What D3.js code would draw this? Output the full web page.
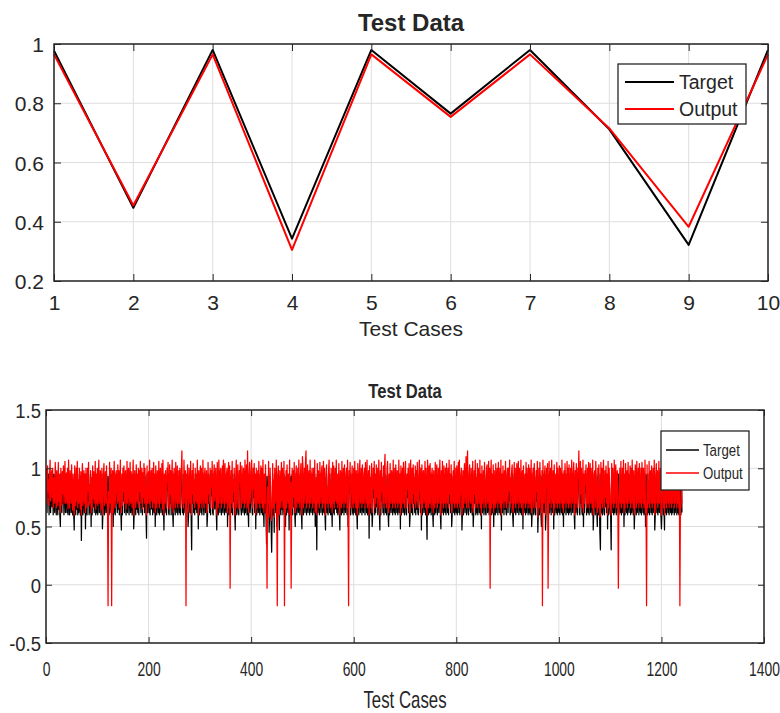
<!DOCTYPE html>
<html><head><meta charset="utf-8">
<script src="https://cdn.jsdelivr.net/npm/d3@7"></script>
<style>
body{margin:0;background:#fff}
svg text{font-family:"Liberation Sans",Arial,Helvetica,sans-serif;fill:#262626}
</style>
</head><body>
<svg id="chart" width="780" height="713"></svg>
<script>
// ---------- DATA ----------
const seriesNames = ["Target", "Output"];

// Panel 1
const cases1 = [1,2,3,4,5,6,7,8,9,10];
const target1 = [0.977,0.447,0.98,0.343,0.98,0.765,0.98,0.712,0.322,0.98];
const output1 = [0.965,0.455,0.965,0.305,0.965,0.754,0.965,0.715,0.383,0.965];
const xTicks1 = [1,2,3,4,5,6,7,8,9,10];
const yTicks1 = [0.2,0.4,0.6,0.8,1];

// Panel 2 (test cases 1..1240)
const target2 = [
.95,.62,.93,.75,.95,.6,.87,.95,.62,.8,.95,.67,.93,.6,.95,.72,.62,.95,.85,.6,
.93,.77,.6,.95,.65,.9,.6,.5,.95,.82,.62,.95,.7,.93,.6,.87,.95,.62,.75,.95,
.62,.9,.6,.95,.72,.6,.93,.8,.62,.95,.67,.6,.9,.62,.47,.95,.75,.6,.93,.65,
.95,.6,.85,.62,.95,.7,.6,.93,.38,.82,.95,.6,.77,.95,.62,.9,.48,.95,.65,.6,
.93,.72,.95,.6,.8,.62,.95,.5,.87,.6,.93,.67,.95,.62,.75,.95,.6,.9,.62,.95,
.6,.85,.95,.62,.7,.93,.6,.8,.95,.48,.62,.9,.95,.6,.77,.93,.62,.95,.67,.6,
.93,.75,.6,.95,.62,.87,.95,.6,.72,.93,.5,.82,.95,.62,.6,.9,.95,.7,.62,.95,
.65,.93,.6,.8,.95,.62,.47,.9,.6,.95,.72,.93,.62,.85,.95,.6,.67,.95,.62,.9,
.95,.6,.77,.93,.62,.95,.7,.6,.87,.95,.48,.62,.93,.8,.6,.95,.65,.9,.62,.95,
.6,.93,.72,.95,.62,.82,.95,.6,.9,.67,.95,.62,.93,.75,.6,.4,.95,.62,.87,.93,
.62,.95,.6,.8,.93,.65,.95,.6,.72,.95,.62,.9,.5,.95,.7,.6,.93,.85,.62,.95,
.6,.87,.95,.62,.77,.93,.6,.95,.67,.47,.9,.62,.95,.72,.6,.93,.82,.95,.62,.6,
.95,.7,.93,.6,.85,.95,.62,.5,.9,.95,.65,.6,.93,.8,.62,.95,.6,.75,.93,.62,
.95,.6,.87,.93,.95,.62,.72,.6,.95,.82,.62,.93,.6,.9,.67,.95,.5,.6,.93,.77,
.62,.95,.6,.3,.93,.7,.95,.62,.85,.6,.95,.65,.9,.62,.95,.75,.48,.93,.6,.8,
.95,.62,.93,.6,.72,.95,.67,.6,.9,.95,.62,.8,.93,.5,.6,.95,.7,.87,.62,.95,
.6,.93,.77,.95,.62,.6,.9,.95,.65,.82,.95,.62,.47,.93,.72,.6,.95,.85,.62,.93,
.95,.6,.7,.93,.62,.95,.87,.6,.95,.67,.62,.9,.95,.5,.8,.93,.6,.95,.62,.75,
.93,.62,.95,.6,.85,.72,.95,.62,.47,.9,.93,.6,.77,.95,.62,.6,.93,.82,.95,.65,
.6,.95,.7,.62,.93,.87,.6,.95,.62,.8,.95,.6,.93,.67,.5,.9,.95,.62,.72,.93,
.95,.62,.6,.93,.75,.95,.62,.9,.48,.95,.6,.82,.93,.62,.95,.7,.6,.87,.95,.62,
.93,.6,.95,.65,.5,.9,.62,.95,.6,.35,.93,.77,.62,.95,.45,.6,.93,.7,.5,.28,
.62,.95,.6,.85,.45,.93,.62,.72,.95,.5,.6,.9,.95,.62,.47,.93,.8,.6,.95,.65,
.93,.6,.75,.95,.62,.87,.5,.93,.6,.95,.7,.62,.9,.47,.95,.6,.82,.93,.62,.95,
.6,.93,.67,.95,.62,.5,.9,.95,.6,.77,.93,.62,.95,.72,.6,.87,.95,.62,.48,.93,
.95,.6,.8,.93,.62,.95,.9,.6,.7,.95,.62,.85,.93,.6,.95,.65,.62,.9,.95,.6,
.75,.93,.62,.95,.5,.6,.87,.3,.95,.62,.93,.72,.6,.95,.82,.62,.9,.95,.6,.67,
.95,.62,.93,.6,.47,.9,.95,.62,.77,.6,.93,.95,.62,.85,.6,.95,.7,.5,.93,.62,
.95,.6,.82,.93,.65,.95,.62,.9,.6,.72,.95,.62,.47,.93,.87,.6,.95,.62,.75,.93,
.6,.95,.7,.62,.9,.93,.6,.95,.5,.62,.93,.8,.95,.6,.67,.87,.95,.62,.6,.93,
.62,.95,.77,.6,.93,.62,.48,.95,.85,.6,.9,.95,.62,.72,.93,.6,.95,.65,.62,.9,
.95,.6,.93,.82,.62,.95,.6,.7,.93,.4,.95,.62,.87,.6,.95,.5,.62,.93,.75,.95,
.6,.9,.62,.95,.67,.93,.6,.8,.95,.62,.47,.93,.6,.95,.72,.87,.62,.95,.6,.93,
.95,.62,.77,.6,.93,.95,.62,.5,.9,.6,.95,.7,.62,.93,.85,.6,.95,.65,.62,.93,
.6,.95,.82,.62,.93,.6,.72,.95,.62,.9,.48,.95,.6,.87,.93,.62,.95,.67,.6,.93,
.95,.62,.6,.9,.75,.95,.62,.93,.5,.6,.95,.8,.62,.93,.6,.95,.7,.87,.62,.95,
.6,.93,.65,.95,.62,.6,.9,.95,.77,.62,.93,.47,.95,.6,.85,.93,.62,.72,.95,.6,
.93,.62,.39,.95,.82,.6,.93,.62,.95,.67,.6,.9,.95,.62,.5,.93,.75,.6,.95,.62,
.9,.95,.6,.72,.93,.62,.87,.95,.6,.48,.93,.62,.95,.8,.6,.95,.65,.62,.93,.6,
.95,.77,.62,.93,.6,.95,.7,.9,.62,.95,.5,.6,.85,.93,.62,.95,.6,.67,.93,.62,
.95,.6,.82,.93,.62,.95,.6,.72,.9,.95,.47,.62,.93,.6,.87,.95,.62,.75,.95,.6,
.93,.95,.62,.6,.9,.95,.65,.62,.93,.8,.6,.95,.5,.62,.93,.7,.95,.6,.87,.62,
.95,.6,.93,.77,.62,.95,.6,.9,.48,.95,.62,.72,.93,.6,.95,.85,.62,.6,.93,.95,
.62,.67,.95,.6,.93,.62,.82,.95,.6,.9,.62,.95,.5,.93,.7,.6,.95,.62,.87,.93,
.6,.95,.75,.62,.93,.6,.95,.47,.9,.62,.95,.8,.6,.93,.65,.95,.62,.6,.9,.95,
.62,.93,.72,.95,.6,.87,.62,.93,.95,.6,.5,.82,.95,.62,.93,.6,.77,.95,.62,.9,
.95,.6,.93,.67,.62,.95,.6,.85,.93,.48,.95,.62,.7,.9,.6,.95,.62,.93,.8,.6,
.95,.62,.93,.6,.75,.95,.5,.62,.9,.93,.6,.95,.87,.62,.6,.93,.72,.95,.45,.62,
.93,.6,.95,.82,.62,.5,.93,.6,.95,.67,.62,.9,.95,.47,.6,.93,.77,.95,.62,.6,
.95,.62,.87,.93,.6,.95,.7,.62,.93,.48,.95,.6,.8,.9,.62,.95,.6,.93,.65,.62,
.95,.6,.93,.75,.62,.95,.6,.9,.5,.93,.62,.95,.85,.6,.72,.95,.62,.93,.6,.95,
.62,.67,.93,.6,.95,.82,.62,.9,.95,.6,.48,.93,.62,.95,.77,.6,.93,.87,.95,.62,
.6,.95,.7,.93,.62,.6,.95,.5,.9,.62,.93,.8,.95,.6,.65,.93,.62,.95,.6,.87,
.95,.62,.93,.72,.6,.95,.47,.62,.9,.93,.6,.95,.82,.62,.5,.93,.6,.95,.75,.45,
.3,.95,.62,.93,.6,.87,.95,.62,.6,.93,.67,.95,.62,.9,.48,.95,.6,.93,.8,.62,
.6,.3,.95,.62,.93,.72,.6,.95,.62,.9,.95,.6,.85,.93,.62,.95,.6,.77,.93,.62,
.95,.6,.67,.93,.62,.95,.5,.9,.6,.95,.82,.62,.93,.6,.95,.7,.62,.87,.95,.6,
.93,.62,.95,.75,.6,.93,.48,.62,.95,.9,.6,.95,.62,.8,.93,.6,.95,.65,.62,.93,
.6,.95,.87,.62,.93,.6,.72,.95,.5,.62,.93,.95,.6,.82,.62,.95,.6,.9,.93,.62,
.95,.6,.77,.93,.62,.95,.47,.6,.9,.95,.62,.93,.6,.7,.95,.62,.85,.93,.6,.48,
.62,.93,.95,.6,.67,.47,.9,.62,.95,.6,.93,.8,.62,.95,.6,.93,.72,.62,.95,.6,
.93,.62,.87,.95,.6,.93,.62,.75,.95,.6,.9,.62,.93,.6,.82,.95,.62,.6,.93,.62
];
const output2 = [
1.0,.7,1.02,.8,.9,.68,.95,1.07,.72,.85,.98,.75,1.0,.66,.92,.8,.7,1.05,.88,.66,
.98,.8,.68,1.05,.72,.95,.66,.62,1.0,.9,.68,.97,.78,1.02,.7,.92,1.06,.7,.82,.96,
.7,1.0,.65,1.07,.8,.66,.98,.85,.7,1.03,.75,.64,.95,.68,.6,1.02,.8,.68,1.0,.72,
1.06,.66,.9,.7,1.0,.78,.65,.97,.6,.88,1.04,.68,.82,.98,.7,.95,.62,1.0,.74,.66,
1.0,.8,1.05,.68,.86,.7,.98,.62,.92,.66,1.02,.74,.97,.7,.8,1.06,.65,.95,.7,1.0,
.68,.9,1.07,.7,.78,.98,.64,.86,1.0,.6,.7,.95,1.04,.68,.84,.97,.7,1.02,.74,.66,
-.18,.8,.66,1.05,.7,.92,1.0,-.18,.78,.98,.62,.88,1.06,.7,.66,.95,.98,.78,.7,1.03,
.72,.98,.66,.86,1.07,.7,.62,.95,.68,1.0,.8,1.02,.7,.9,.98,.65,.75,1.06,.7,.95,
1.0,.68,.84,1.05,.7,.97,.78,.66,.92,1.07,.6,.7,.98,.86,.66,1.03,.72,.95,.7,1.0,
.66,.98,.8,1.06,.7,.88,1.0,.65,.96,.75,1.04,.7,1.0,.82,.66,.6,1.02,.7,.92,.97,
.7,1.07,.66,.86,.98,.72,1.0,.66,.8,1.05,.7,.95,.62,1.02,.78,.66,.98,.9,.7,1.06,
.66,.92,1.0,.7,.84,1.04,.65,1.07,.75,.6,.95,.7,.98,.8,.66,1.0,.88,1.05,.7,.65,
1.03,.78,.98,.66,.9,1.07,.7,.62,.95,1.0,.72,.66,1.05,.86,.7,1.02,.66,.82,.98,.7,
1.0,.66,.92,1.0,1.15,.7,.8,.66,1.07,.88,.7,.98,-.18,.95,.74,1.03,.62,.66,1.0,.84,
.7,1.06,.66,.6,.98,.78,1.04,.7,.9,.66,1.0,.72,.95,.7,1.07,.82,.6,.98,.66,.86,
1.02,.7,1.0,.66,.8,1.07,.75,.66,.95,1.0,.7,.86,.98,.62,.66,1.05,.78,.92,.7,1.0,
.66,.98,.84,1.06,.7,.65,.95,1.03,.72,.88,1.0,.7,.6,1.05,.8,.66,1.07,.9,.7,.98,
1.0,.66,.78,1.02,.7,1.07,.92,.66,1.04,.75,.7,.95,1.0,.62,.86,1.05,.66,1.02,-.03,.82,
.98,.7,1.06,.66,.9,.8,1.0,.7,.6,.95,1.07,.66,.84,1.03,.7,.65,.98,.88,1.05,.72,
.66,1.02,.78,.7,1.0,.92,.66,1.07,.7,.86,1.03,.66,1.15,.75,.62,.95,1.05,.7,.8,.98,
1.07,.7,.66,1.0,.82,1.04,.7,.95,.6,1.0,.66,.88,.98,.7,1.06,.78,.66,.92,1.02,.7,
1.0,.66,1.07,.72,.62,.95,.7,1.03,.66,.55,-.03,.84,.7,1.06,.58,.66,1.0,.78,.6,.55,
.7,1.04,.66,.9,.58,1.0,.7,.8,1.07,.62,-.18,.95,1.02,.7,.6,.98,.86,.66,1.05,.72,
1.0,.66,.82,1.06,-.18,.92,.62,.98,.66,1.03,.78,.7,.95,.6,1.07,.66,.88,-.03,.7,1.0,
.66,.98,.75,1.05,.7,.62,.95,1.02,.66,.84,1.0,.7,1.07,.8,.66,.92,1.04,.7,.6,1.1,
1.02,.66,.86,1.0,.7,1.06,1.15,.66,.78,1.03,.7,.9,.98,.66,1.07,.72,.7,.95,1.0,.66,
.82,1.0,.7,1.07,.62,.66,.92,.6,1.04,.7,.98,.8,.66,1.05,.88,.7,.95,1.02,.66,.75,
1.06,.7,1.0,.66,.6,.95,1.03,.7,.84,.66,.98,1.07,.7,.9,.66,1.0,.78,.62,1.05,.7,
1.02,.66,.88,1.0,.72,1.07,.7,.95,.66,.8,1.04,.7,.6,.98,.92,.66,1.06,.7,.82,1.0,
.66,1.03,.78,.7,.95,1.0,.66,1.07,.62,-.18,.98,.86,1.05,.66,.75,.92,1.02,.7,.66,1.0,
.7,1.06,.84,.66,.98,.7,.6,1.04,.9,.66,.95,1.07,.7,.8,1.0,.66,1.03,.72,.7,.95,
1.0,.66,1.05,.88,.7,1.07,.66,.78,.98,.6,1.02,.7,.92,.66,1.04,.62,.7,1.0,.82,1.06,
.66,.95,.7,1.03,.75,1.0,.66,.86,1.07,.7,.6,.98,.66,1.05,.8,.92,.7,1.02,.66,1.0,
1.12,.7,.84,.66,1.0,1.06,.7,.62,.95,.66,1.04,.78,.7,.98,.9,.66,1.07,.72,.7,1.0,
.66,1.03,.88,.7,.98,.66,.8,1.07,.7,.95,.6,1.02,.66,.92,1.0,.7,1.05,.75,.66,.98,
1.06,.7,.66,.95,.82,1.0,.7,1.04,.62,.66,1.07,.86,.7,1.0,.66,1.03,.78,.92,.7,1.02,
.66,.98,.72,1.05,.7,.66,.95,1.07,.84,.7,1.0,.6,1.03,.66,.9,.98,.7,.8,1.06,.66,
1.0,.7,.6,1.07,.88,.66,1.02,.7,1.04,.75,.66,.95,1.0,.7,.62,.98,.82,.66,1.05,.7,
.95,1.03,.66,.8,1.0,.7,.92,1.07,.66,.6,.98,.7,1.06,.86,.66,1.02,.72,.7,1.0,.66,
1.04,.84,.7,1.0,.66,1.07,.78,.95,.7,1.03,.62,.66,.9,.98,.7,1.06,.66,.75,1.0,.7,
1.02,.66,.88,1.05,.7,1.07,.66,.8,.95,1.0,.6,.7,.98,.66,.92,1.04,.7,.82,1.1,.66,
1.0,1.15,.7,.66,.95,1.03,.72,.7,1.0,.86,.66,1.06,.62,.7,.98,.78,1.07,.66,.92,.7,
1.04,.66,1.0,.84,.7,1.07,.66,.95,.6,1.02,.7,.8,.98,.66,1.05,.9,.7,.66,1.0,1.03,
.7,.75,1.06,.66,1.0,-.03,.88,1.07,.66,.95,.7,1.03,.62,.98,.78,.66,1.04,.7,.92,1.0,
.66,1.05,.82,.7,1.0,.66,1.07,.6,.95,.7,1.02,.86,.66,.98,.72,1.06,.7,.66,.95,1.0,
.7,1.0,.8,1.07,.66,.92,.7,.98,1.03,.66,.62,.88,1.05,.7,1.0,.66,.84,1.04,.7,.95,
1.06,.66,1.0,.75,.7,1.07,.66,.9,.98,.6,1.02,.7,.78,.95,.66,1.05,.7,1.0,.86,.66,
1.03,.7,1.0,.66,.82,1.07,.62,.7,.95,1.0,.66,1.04,.92,.7,.66,.98,.8,1.06,.58,.7,
1.0,.66,1.05,.88,.7,.62,.98,-.18,1.07,.75,.7,.95,1.02,.6,.66,1.0,.84,1.04,-.03,.66,
1.06,.7,.92,1.0,.66,1.07,.78,.7,.98,.6,1.03,.66,.86,.95,.7,1.05,.66,1.0,.72,.7,
1.02,.66,1.0,.82,.7,1.07,.66,.95,.62,.98,.7,1.04,.9,.66,.8,1.06,.7,1.0,.66,1.03,
.7,.75,1.0,.66,1.07,.88,.7,.95,1.05,.66,.6,.98,.7,1.04,.84,.66,1.0,.92,1.15,.7,
.66,1.06,.78,1.0,.7,.66,1.07,.62,.95,.7,.98,.86,1.03,.66,.72,1.0,.7,1.05,.66,.92,
1.04,.7,1.0,.8,.66,1.07,.6,.7,.95,.98,.66,1.06,.88,.7,.62,1.0,.66,1.03,.82,.58,
.6,1.05,.7,1.0,.66,.92,1.07,.7,.66,.98,.75,1.02,.7,.95,.6,1.06,.66,1.0,.86,.7,
.66,.6,1.04,.7,1.0,.8,.66,1.07,.7,.95,1.03,.66,.9,.98,.7,-.03,.66,.84,1.0,.7,
1.06,.66,.75,1.0,.7,1.07,.62,.95,.66,1.04,.88,.7,.98,.66,1.05,.78,.7,.92,1.02,.66,
1.0,.7,1.07,.82,.66,.98,.6,.7,1.03,.95,.66,1.06,.7,.86,1.0,.66,1.04,.72,.7,1.0,
.66,1.05,.92,.7,1.0,.66,.8,1.07,.62,.7,-.18,1.03,.66,.88,.7,1.06,.66,.95,.98,.7,
1.02,.66,.84,1.0,.7,1.07,.6,.66,.95,1.04,.7,.98,.66,.78,1.06,.7,.9,1.0,.66,.6,
.7,1.0,1.05,.66,.75,.6,.95,.7,1.07,.66,.98,.86,.7,1.03,.66,1.0,.8,.7,1.04,.66,
1.0,.7,.92,1.06,.66,.98,.7,.82,1.03,.66,.95,.7,1.0,.66,.88,-.18,.7,.66,.98,.7
];
const xTicks2 = [0,200,400,600,800,1000,1200,1400];
const yTicks2 = [-0.5,0,0.5,1,1.5];

// ---------- DRAW ----------
const svg = d3.select("#chart");
const colors = {Target:"#000000", Output:"#ff0000"};

function panel(cfg){
  const g = svg.append("g");
  const x = d3.scaleLinear().domain(cfg.xDomain).range([cfg.left, cfg.right]);
  const y = d3.scaleLinear().domain(cfg.yDomain).range([cfg.bottom, cfg.top]);

  // grid
  g.append("g").selectAll("line.gx").data(cfg.xTicks).join("line")
    .attr("x1", d=>x(d)).attr("x2", d=>x(d)).attr("y1", cfg.top).attr("y2", cfg.bottom)
    .attr("stroke", "#dedede").attr("stroke-width", 1);
  g.append("g").selectAll("line.gy").data(cfg.yTicks).join("line")
    .attr("x1", cfg.left).attr("x2", cfg.right).attr("y1", d=>y(d)).attr("y2", d=>y(d))
    .attr("stroke", "#dedede").attr("stroke-width", 1);

  // series
  const line = d3.line().x(d=>x(d[0])).y(d=>y(d[1]));
  cfg.series.forEach(s=>{
    g.append("path").datum(s.x.map((v,i)=>[v, s.y[i]]))
      .attr("d", line).attr("fill","none")
      .attr("stroke", colors[s.name]).attr("stroke-width", cfg.lw)
      .attr("stroke-linejoin","round");
  });

  const ts = cfg.tickLen;
  // axes (inward ticks on all sides)
  const ax = g.append("g").attr("transform",`translate(0,${cfg.bottom})`)
    .call(d3.axisBottom(x).tickValues(cfg.xTicks).tickSizeInner(-ts).tickSizeOuter(0).tickFormat(cfg.xFmt));
  const at = g.append("g").attr("transform",`translate(0,${cfg.top})`)
    .call(d3.axisTop(x).tickValues(cfg.xTicks).tickSizeInner(-ts).tickSizeOuter(0).tickFormat(""));
  const ay = g.append("g").attr("transform",`translate(${cfg.left},0)`)
    .call(d3.axisLeft(y).tickValues(cfg.yTicks).tickSizeInner(-ts).tickSizeOuter(0).tickFormat(cfg.yFmt));
  const ar = g.append("g").attr("transform",`translate(${cfg.right},0)`)
    .call(d3.axisRight(y).tickValues(cfg.yTicks).tickSizeInner(-ts).tickSizeOuter(0).tickFormat(""));
  [ax,at,ay,ar].forEach(a=>{
    a.select(".domain").remove();
    a.selectAll(".tick line").attr("stroke","#262626").attr("stroke-width",1);
    a.attr("font-family",null).attr("font-size",null);
  });
  ax.selectAll(".tick text").attr("dy",null).attr("y",cfg.xTickY)
    .style("font-size",cfg.tickFont+"px").attr("fill","#262626")
    .attr("transform",`scale(${cfg.xTickSx},1)`);
  ay.selectAll(".tick text").attr("dy","0.36em").attr("x",-cfg.yTickPad/cfg.yTickSx)
    .style("font-size",cfg.tickFont+"px").attr("fill","#262626")
    .attr("transform",`scale(${cfg.yTickSx},1)`);

  // box
  g.append("rect").attr("x",cfg.left).attr("y",cfg.top)
    .attr("width",cfg.right-cfg.left).attr("height",cfg.bottom-cfg.top)
    .attr("fill","none").attr("stroke","#262626").attr("stroke-width",1.5);

  // title
  const cx = (cfg.left+cfg.right)/2;
  g.append("text").attr("transform",`translate(${cx},${cfg.titleY}) scale(${cfg.titleSx},1)`)
    .attr("text-anchor","middle").style("font-size",cfg.titleFont+"px").style("font-weight","bold")
    .attr("fill","#000").text(cfg.title);
  // x label
  g.append("text").attr("transform",`translate(${cx},${cfg.xLabelY}) scale(${cfg.xLabelSx},1)`)
    .attr("text-anchor","middle").style("font-size",cfg.xLabelFont+"px").text(cfg.xLabel);

  // legend
  const L = cfg.legend;
  g.append("rect").attr("x",L.x0).attr("y",L.y0).attr("width",L.x1-L.x0).attr("height",L.y1-L.y0)
    .attr("fill","#fff").attr("stroke","#262626").attr("stroke-width",1.3);
  seriesNames.forEach((n,i)=>{
    const yy = L.rows[i];
    g.append("line").attr("x1",L.lx0).attr("x2",L.lx1).attr("y1",yy).attr("y2",yy)
      .attr("stroke",colors[n]).attr("stroke-width",cfg.legendLw);
    g.append("text").attr("transform",`translate(${L.tx},${yy}) scale(${L.sx},1)`)
      .attr("dy","0.36em").style("font-size",L.font+"px").text(n);
  });
}

panel({
  left:54, right:768, top:44, bottom:281,
  xDomain:[1,10], yDomain:[0.2,1],
  xTicks:xTicks1, yTicks:yTicks1,
  xFmt:d3.format("d"), yFmt:d=>String(+d.toFixed(1)),
  series:[{name:"Target", x:cases1, y:target1},{name:"Output", x:cases1, y:output1}],
  lw:2, legendLw:2, tickLen:7,
  tickFont:21, xTickY:29, xTickSx:1, yTickPad:10, yTickSx:1,
  title:"Test Data", titleY:31, titleFont:24, titleSx:1,
  xLabel:"Test Cases", xLabelY:336, xLabelFont:21, xLabelSx:1,
  legend:{x0:618,x1:746,y0:64,y1:124,lx0:625,lx1:674,tx:679,rows:[82,109],font:19.5,sx:1}
});

const cases2 = output2.map((_,i)=>i+1);
panel({
  left:46, right:764, top:410, bottom:643,
  xDomain:[0,1400], yDomain:[-0.5,1.5],
  xTicks:xTicks2, yTicks:yTicks2,
  xFmt:d3.format("d"), yFmt:d=>String(+d.toFixed(1)),
  series:[{name:"Target", x:target2.map((_,i)=>i+1), y:target2},{name:"Output", x:cases2, y:output2}],
  lw:1.25, legendLw:1.6, tickLen:6,
  tickFont:21, xTickY:33, xTickSx:0.66, yTickPad:5, yTickSx:0.88,
  title:"Test Data", titleY:398, titleFont:21, titleSx:0.79,
  xLabel:"Test Cases", xLabelY:708, xLabelFont:24, xLabelSx:0.7,
  legend:{x0:661,x1:749,y0:431,y1:490,lx0:666,lx1:699,tx:703,rows:[450,473],font:17,sx:0.78}
});
</script>
</body></html>
